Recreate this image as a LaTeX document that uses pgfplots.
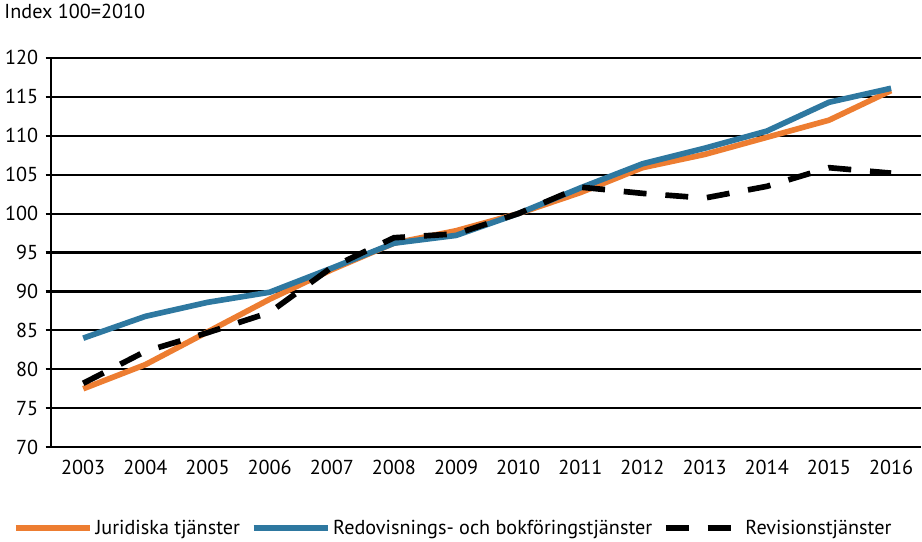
\documentclass[border=0pt]{standalone}
\usepackage{fontspec}
\setmainfont{PT Sans}
\usepackage{pgfplots}
\pgfplotsset{compat=1.18}
\definecolor{jurorange}{RGB}{237,125,49}
\definecolor{redblue}{RGB}{46,120,160}
\begin{document}
\begin{tikzpicture}[x=1pt,y=1pt]
\begin{axis}[
    width=646pt, height=289pt,
    scale only axis,
    xmin=2002.48, xmax=2016.48,
    ymin=70, ymax=120,
    ytick distance=5,
    xtick={2003,...,2016},
    /pgf/number format/.cd, set thousands separator={}, assume math mode=true,
    /pgfplots/.cd,
    axis y line*=left,
    axis x line*=bottom,
    x axis line style={draw=none},
    y axis line style={black, line width=1.6pt},
    xtick style={draw=none},
    ytick style={black, line width=1.6pt},
    tick align=outside,
    major tick length=4pt,
    ymajorgrids,
    grid style={black, line width=1.6pt},
    tick label style={font=\fontsize{15}{18}\selectfont},
    yticklabel style={xshift=-2pt},
    xticklabel style={yshift=-2pt},
    title={Index 100=2010},
    title style={at={(0,1)}, anchor=base west, xshift=-38pt, yshift=23pt, font=\fontsize{15}{18}\selectfont},
    legend columns=-1,
    legend style={at={(0.5,0)}, anchor=center, xshift=-24pt, yshift=-60pt, draw=none,
        font=\fontsize{15}{18}\selectfont,
        /tikz/every even column/.append style={column sep=6pt}},
    legend image code/.code={\draw[#1] (0pt,0pt) -- (55pt,0pt);},
]
\addplot[jurorange, line width=4.2pt] coordinates {
    (2003,77.5) (2004,80.6) (2005,84.8) (2006,89.0) (2007,92.8) (2008,96.2) (2009,97.8)
    (2010,100.0) (2011,102.7) (2012,105.9) (2013,107.6) (2014,109.8) (2015,112.0) (2016,115.8)
};
\addplot[redblue, line width=4.2pt] coordinates {
    (2003,84.0) (2004,86.8) (2005,88.6) (2006,89.9) (2007,93.0) (2008,96.2) (2009,97.2)
    (2010,100.0) (2011,103.3) (2012,106.4) (2013,108.4) (2014,110.6) (2015,114.3) (2016,116.1)
};
\addplot[black, line width=4.2pt, dash pattern=on 17pt off 14pt] coordinates {
    (2003,78.2) (2004,82.3) (2005,84.7) (2006,87.3) (2007,93.1) (2008,96.9) (2009,97.4)
    (2010,100.0) (2011,103.4) (2012,102.6) (2013,102.0) (2014,103.5) (2015,105.9) (2016,105.2)
};
\legend{Juridiska tjänster, Redovisnings- och bokföringstjänster, Revisionstjänster}
\end{axis}
\end{tikzpicture}
\end{document}
